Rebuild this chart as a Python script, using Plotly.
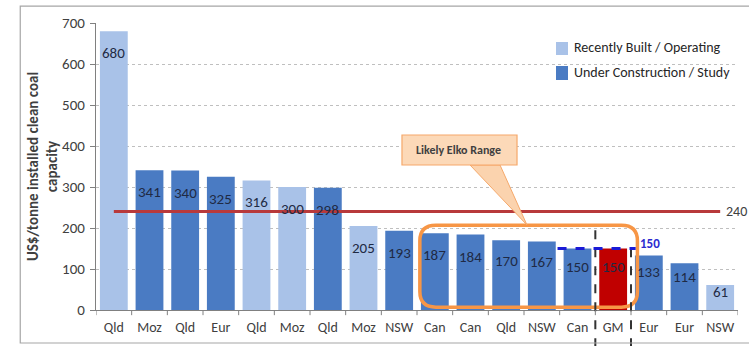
import plotly.graph_objects as go

# Capital intensity of clean coal projects (US$ per tonne of installed capacity)
regions = ["Qld", "Moz", "Qld", "Eur", "Qld", "Moz", "Qld", "Moz", "NSW",
           "Can", "Can", "Qld", "NSW", "Can", "GM", "Eur", "Eur", "NSW"]
values = [680, 341, 340, 325, 316, 300, 298, 205, 193,
          187, 184, 170, 167, 150, 150, 133, 114, 61]
status = ["built", "study", "study", "study", "built", "built", "study", "built", "study",
          "study", "study", "study", "study", "study", "gm", "study", "study", "built"]
y_ticks = [0, 100, 200, 300, 400, 500, 600, 700]
benchmark = 240
elko_target = 150

LIGHT = "#A9C2E8"
DARK = "#4A7BC3"
RED = "#C00000"
FONT = "Carlito, 'Liberation Sans Narrow', 'Arial Narrow', 'Open Sans', sans-serif"

PLOT_H = 287  # plot area height in px, used to keep labels inside short bars
Y_MAX = 700

fig = go.Figure()

groups = [("built", "Recently Built / Operating", LIGHT),
          ("study", "Under Construction / Study", DARK),
          ("gm", "GM", RED)]
for key, name, color in groups:
    xs = [i for i, s in enumerate(status) if s == key]
    ys = [values[i] for i in xs]
    fig.add_trace(go.Bar(x=xs, y=ys, name=name, marker_color=color,
                         marker_line_width=0, width=0.78, showlegend=False))

# value labels just below each bar top
for i, v in enumerate(values):
    bar_px = v / Y_MAX * PLOT_H
    fig.add_annotation(x=i, y=v, text=str(v), showarrow=False, yshift=-min(22, 0.3 * bar_px),
                       font=dict(size=15, color="#1F2A44", family=FONT))

shapes = []
# 240 benchmark line
shapes.append(dict(type="line", xref="x", yref="y", x0=0, x1=len(values) - 1,
                   y0=benchmark, y1=benchmark, line=dict(color="#B8393B", width=3), layer="above"))

# rounded "likely range" box
x0, x1, y0, y1 = 8.58, 14.68, 7, 207
rx, ry = 0.45, 38
path = (f"M {x0+rx},{y0} L {x1-rx},{y0} Q {x1},{y0} {x1},{y0+ry} L {x1},{y1-ry} "
        f"Q {x1},{y1} {x1-rx},{y1} L {x0+rx},{y1} Q {x0},{y1} {x0},{y1-ry} "
        f"L {x0},{y0+ry} Q {x0},{y0} {x0+rx},{y0} Z")
shapes.append(dict(type="path", xref="x", yref="y", path=path,
                   line=dict(color="#F79646", width=3.5), layer="above"))

# divider lines around the GM bar
shapes.append(dict(type="line", xref="x", yref="paper", x0=13.5, x1=13.5, y0=-0.13, y1=0.29,
                   line=dict(color="#333333", width=2, dash="dash"), layer="above"))
shapes.append(dict(type="line", xref="x", yref="paper", x0=14.5, x1=14.5, y0=-0.13, y1=0.21,
                   line=dict(color="#333333", width=2, dash="dash"), layer="above"))

# target dashed line at 150
shapes.append(dict(type="line", xref="x", yref="y", x0=12.44, x1=14.63,
                   y0=elko_target, y1=elko_target,
                   line=dict(color="#1A1AD6", width=3, dash="dash"), layer="above"))

# callout bubble
shapes.append(dict(type="path", xref="paper", yref="paper",
                   path="M 0.5826,0.5052 L 0.6293,0.5052 L 0.6713,0.2962 Z",
                   fillcolor="#FBD3AE", line=dict(color="#F5A86A", width=1), layer="above"))
shapes.append(dict(type="rect", xref="paper", yref="paper",
                   x0=0.4766, x1=0.6558, y0=0.5052, y1=0.6098,
                   fillcolor="#FCD9B8", line=dict(color="#F5A86A", width=1.2), layer="above"))

# legend keys
legend_rows = [(LIGHT, groups[0][1], 0.8885, 0.9338, 0.9129),
               (DARK, groups[1][1], 0.8014, 0.8502, 0.8258)]
for color, label, ly0, ly1, ytxt in legend_rows:
    shapes.append(dict(type="rect", xref="paper", yref="paper", x0=0.7165, x1=0.7352,
                       y0=ly0, y1=ly1, fillcolor=color, line=dict(width=0)))
    fig.add_annotation(xref="paper", yref="paper", x=0.7414, y=ytxt, text=label,
                       showarrow=False, xanchor="left", yanchor="middle",
                       font=dict(size=14, color="#262626", family=FONT))

# outer frame
shapes.append(dict(type="rect", xref="paper", yref="paper",
                   x0=-0.118, x1=1.03, y0=-0.115, y1=1.059,
                   line=dict(color="#A6A6A6", width=1.2)))

fig.update_layout(shapes=shapes)

fig.add_annotation(xref="paper", yref="paper", x=0.5654, y=0.5575, text="<b>Likely Elko Range</b>",
                   showarrow=False, font=dict(size=12, color="#404040", family=FONT))
fig.add_annotation(x=14.63, y=elko_target, text="<b>150</b>", showarrow=False,
                   xanchor="left", xshift=2, yshift=5,
                   font=dict(size=13, color="#2B2BD0", family=FONT))
fig.add_annotation(x=len(values) - 1, y=benchmark, text=str(benchmark), showarrow=False,
                   xanchor="left", xshift=4, font=dict(size=14, color="#404040", family=FONT))

fig.update_xaxes(tickvals=list(range(len(regions))), ticktext=regions, range=[-0.5, len(values) - 0.5],
                 showgrid=False, showline=True, linecolor="#808080", linewidth=1.2,
                 ticks="", ticklabelstandoff=4, automargin=False,
                 tickfont=dict(size=14, color="#404040", family=FONT))
# tick marks between categories
for b in range(len(values) + 1):
    fig.add_shape(type="line", xref="x", yref="paper", x0=b - 0.5, x1=b - 0.5, y0=0, y1=-0.018,
                  line=dict(color="#808080", width=1))

fig.update_yaxes(range=[0, Y_MAX], tickvals=y_ticks, showgrid=True, gridcolor="#BFBFBF",
                 griddash="dot", gridwidth=1.3, showline=True, linecolor="#808080", linewidth=1.2,
                 zeroline=False, ticks="outside", ticklen=5, tickcolor="#808080",
                 ticklabelstandoff=2, automargin=False,
                 tickfont=dict(size=15, color="#404040", family=FONT),
                 title=dict(text="<b>US$/tonne installed clean coal<br>capacity</b>",
                            font=dict(size=15, color="#404040", family=FONT), standoff=0))

fig.update_layout(
    width=749, height=346,
    margin=dict(l=96, r=11, t=23, b=36),
    barmode="overlay",
    plot_bgcolor="white", paper_bgcolor="white",
    showlegend=False,
    font=dict(family=FONT),
)

fig.write_html("out.html")
